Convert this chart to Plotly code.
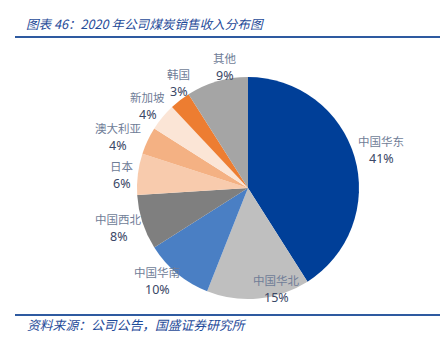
import math
import plotly.graph_objects as go

labels = ["中国华东", "中国华北", "中国华南", "中国西北", "日本", "澳大利亚", "新加坡", "韩国", "其他"]
values = [41, 15, 10, 8, 6, 4, 4, 3, 9]
colors = ["#003f98", "#bfbfbf", "#4a7fc4", "#7f7f7f", "#f8cbad", "#f4b183", "#fbe5d6", "#ed7d31", "#a5a5a5"]

title_text = "图表 46：2020 年公司煤炭销售收入分布图"
source_text = "资料来源：公司公告，国盛证券研究所"

W, H = 445, 343
cx, cy, r = 248, 188, 111

# label placement style: (distance of label block centre from pie centre in px,
#                         angular nudge from slice mid-angle in degrees)
label_place = {
    "中国华东": (139, 0), "中国华北": (105, -10.6), "中国华南": (130, 4.8),
    "中国西北": (135, 1.2), "日本": (127, -0.9), "澳大利亚": (140, -3.4),
    "新加坡": (130, 0), "韩国": (126, 4.5), "其他": (124, 5.5),
}

fig = go.Figure(go.Pie(
    labels=labels,
    values=values,
    sort=False,
    direction="clockwise",
    rotation=0,
    marker=dict(colors=colors, line=dict(width=0)),
    textinfo="none",
    showlegend=False,
    hoverinfo="skip",
    domain=dict(x=[(cx - r) / W, (cx + r) / W], y=[1 - (cy + r) / H, 1 - (cy - r) / H]),
    automargin=False,
))

annotations = []
total = sum(values)
cum = 0
for lab, v in zip(labels, values):
    R, nudge = label_place.get(lab, (128, 0))
    mid = (cum + v / 2) / total * 2 * math.pi + math.radians(nudge)
    cum += v
    px = cx + R * math.sin(mid)
    py = cy - R * math.cos(mid)
    annotations.append(dict(
        text=lab, xref="paper", yref="paper", x=px / W, y=1 - (py - 8.5) / H,
        xanchor="center", yanchor="middle", showarrow=False,
        font=dict(family="Noto Sans CJK SC", size=11.5, color="#6f7d97"),
    ))
    annotations.append(dict(
        text=f"{v}%", xref="paper", yref="paper", x=px / W, y=1 - (py + 9) / H,
        xanchor="center", yanchor="middle", showarrow=False,
        font=dict(family="Noto Sans, DejaVu Sans", size=12.5, color="#3a4766"),
    ))

annotations += [
    dict(text="<i>" + title_text + "</i>", xref="paper", yref="paper",
         x=24 / W, y=1 - 23 / H, xanchor="left", yanchor="middle", showarrow=False,
         font=dict(family="Noto Sans CJK SC, Noto Sans", size=12.6, color="#1f4b99")),
    dict(text="<i>" + source_text + "</i>", xref="paper", yref="paper",
         x=25 / W, y=1 - 324.5 / H, xanchor="left", yanchor="middle", showarrow=False,
         font=dict(family="Noto Sans CJK SC, Noto Sans", size=12.8, color="#1f4b99")),
]

fig.update_layout(
    width=W, height=H,
    margin=dict(l=0, r=0, t=0, b=0),
    paper_bgcolor="white",
    plot_bgcolor="white",
    shapes=[
        dict(type="line", xref="paper", yref="paper", x0=15 / W, x1=440 / W,
             y0=1 - 37 / H, y1=1 - 37 / H, line=dict(color="#2e5aa0", width=2)),
        dict(type="line", xref="paper", yref="paper", x0=15 / W, x1=440 / W,
             y0=1 - 315 / H, y1=1 - 315 / H, line=dict(color="#2e5aa0", width=2)),
    ],
    annotations=annotations,
)

fig.write_html("out.html")
